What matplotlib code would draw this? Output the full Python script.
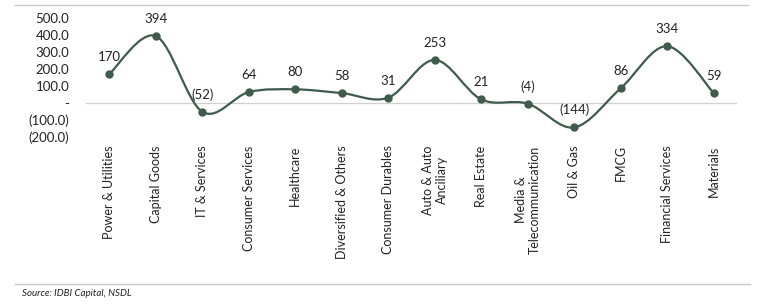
import numpy as np
import matplotlib.pyplot as plt
from matplotlib.path import Path
from matplotlib.patches import PathPatch
from matplotlib.lines import Line2D

# data
sectors = ['Power & Utilities', 'Capital Goods', 'IT & Services', 'Consumer Services',
           'Healthcare', 'Diversified & Others', 'Consumer Durables', 'Auto & Auto\nAnciliary',
           'Real Estate', 'Media &\nTelecommunication', 'Oil & Gas', 'FMCG',
           'Financial Services', 'Materials']
flows = [170, 394, -52, 64, 80, 58, 31, 253, 21, -4, -144, 86, 334, 59]
y_ticks = [-200, -100, 0, 100, 200, 300, 400, 500]

line_col = '#3e5b4b'
plt.rcParams['font.family'] = ['Lato', 'DejaVu Sans']

fig = plt.figure(figsize=(7.62, 3.05), dpi=100)
ax = fig.add_axes([0.113, 0.551, 0.854, 0.39])

x = np.arange(len(flows))
y = np.array(flows, dtype=float)

# smoothed line like excel: cubic bezier through the points
verts = [(x[0], y[0])]
codes = [Path.MOVETO]
for i in range(len(x) - 1):
    p0 = np.array([x[max(i - 1, 0)], y[max(i - 1, 0)]])
    p1 = np.array([x[i], y[i]])
    p2 = np.array([x[i + 1], y[i + 1]])
    p3 = np.array([x[min(i + 2, len(x) - 1)], y[min(i + 2, len(x) - 1)]])
    c1 = p1 + (p2 - p0) / 6
    c2 = p2 - (p3 - p1) / 6
    verts += [tuple(c1), tuple(c2), tuple(p2)]
    codes += [Path.CURVE4] * 3
ax.add_patch(PathPatch(Path(verts, codes), fill=False, edgecolor=line_col, lw=1.6, zorder=3))
ax.plot(x, y, 'o', color=line_col, ms=5, zorder=4)

ax.axhline(0, color='#d0d0d0', lw=0.9, zorder=1)

def fmt(v):
    return f'({abs(v)})' if v < 0 else f'{v}'

for xi, v in zip(x, flows):
    ax.annotate(fmt(v), (xi, v), xytext=(0, 8), textcoords='offset points',
                ha='center', va='bottom', fontsize=9.5, color='#222222')

ax.set_xlim(-0.5, len(flows) - 0.5)
ax.set_ylim(-200, 500)
ax.set_yticks(y_ticks)
ax.set_yticklabels(['(200.0)', '(100.0)', '-', '100.0', '200.0', '300.0', '400.0', '500.0'])
ax.set_xticks(x)
ax.set_xticklabels(sectors, rotation=90, fontsize=9, multialignment='center')
ax.tick_params(axis='both', length=0, colors='#222222')
ax.tick_params(axis='y', labelsize=9.5, pad=12)
ax.tick_params(axis='x', pad=6)
for s in ax.spines.values():
    s.set_visible(False)

# frame lines and source note
fig.add_artist(Line2D([15 / 762, 748 / 762], [1 - 5 / 305] * 2, color='#c8c8c8', lw=1))
fig.add_artist(Line2D([15 / 762, 750 / 762], [1 - 284 / 305] * 2, color='#c8c8c8', lw=1))
fig.text(22 / 762, 1 - 294 / 305, 'Source: IDBI Capital, NSDL', fontsize=7, style='italic',
         va='center', color='#222222')

fig.savefig('out.png', dpi=100)
